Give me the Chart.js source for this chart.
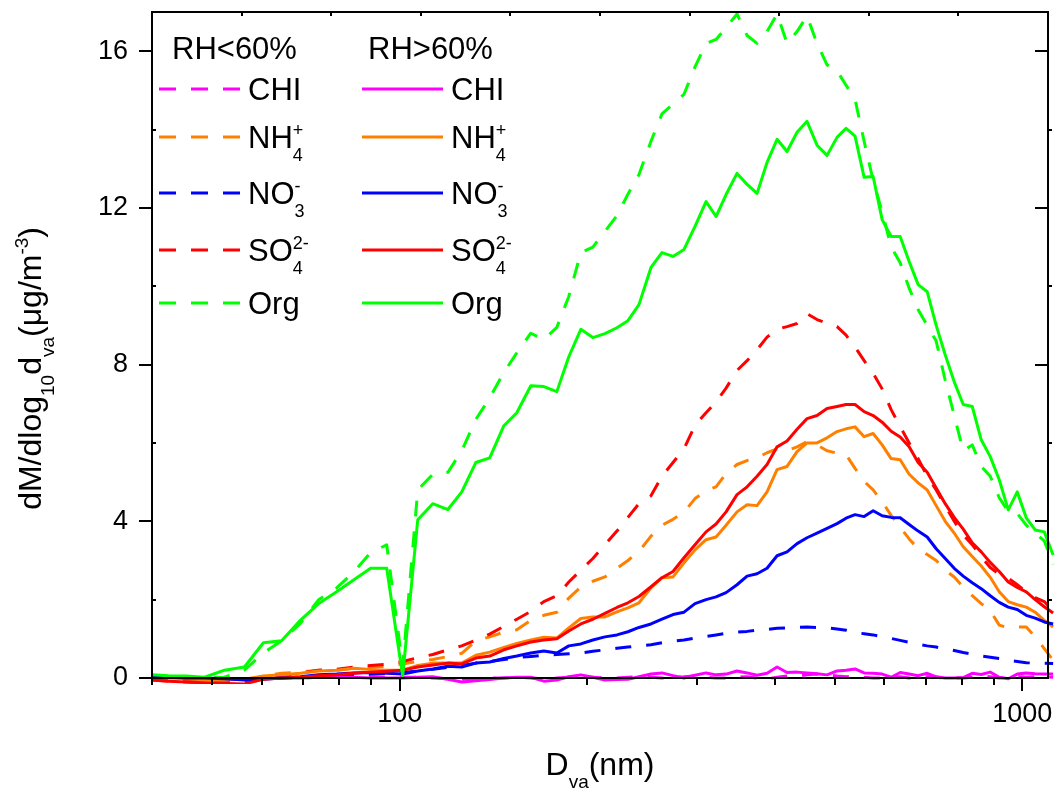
<!DOCTYPE html>
<html>
<head>
<meta charset="utf-8">
<style>
  html, body { margin: 0; padding: 0; background: #fff; }
  #wrap { width: 1056px; height: 789px; position: relative; }
</style>
<script src="https://cdn.jsdelivr.net/npm/chart.js@4.4.1/dist/chart.umd.min.js"></script>
</head>
<body>
<div id="wrap"><canvas id="sizeChart"></canvas></div>
<script>
// Vacuum aerodynamic diameter bins (nm)
const sizes = [40, 42.5, 45.4, 48.6, 52.3, 56.3, 60.4, 64.6, 69.3, 74.1,
  79.2, 84.3, 89.8, 95.3, 101.1, 106.9, 113, 119.5, 125.8, 132.5,
  139.5, 147, 154.2, 162.4, 170.4, 178.8, 186.9, 195.4, 204.3, 213.6,
  223.3, 232.6, 242.3, 253.3, 263.8, 274.8, 286.2, 298.1, 310.5, 322.2,
  334.4, 348.2, 361.4, 375, 389.1, 403.8, 419, 434.8, 451.1, 468.1,
  485.8, 504.1, 521.2, 538.8, 557.2, 576.1, 595.6, 615.8, 636.7, 658.2,
  680.5, 703.6, 727.4, 752.1, 777.6, 803.9, 831.2, 859.3, 888.4, 918.5,
  949.6, 981.8, 1015, 1049, 1085, 1121];

// RH<60% (dashed)
const chlLow = [0.02, 0.0, -0.02, -0.03, -0.04, -0.03, -0.02, 0.0, 0.0, 0.02,
  0.02, 0.03, 0.03, 0.02, 0.02, 0.02, 0.0, -0.02, -0.03, -0.02,
  0.0, 0.0, 0.02, 0.0, -0.02, 0.0, 0.02, 0.03, 0.02, 0.0,
  0.0, 0.02, 0.03, 0.02, 0.0, 0.02, 0.03, 0.05, 0.02, 0.0,
  0.0, 0.02, 0.03, 0.0, -0.02, 0.02, 0.05, 0.05, 0.08, 0.1,
  0.08, 0.05, 0.03, 0.05, 0.02, 0.0, 0.0, 0.02, 0.03, 0.0,
  0.02, 0.03, 0.02, 0.0, 0.0, 0.0, 0.02, 0.05, 0.03, 0.0,
  0.02, 0.03, 0.02, 0.03, 0.03, 0.02];
const nh4Low = [0.05, 0.0, -0.03, -0.08, -0.1, -0.08, 0.05, 0.12, 0.15, 0.2,
  0.2, 0.25, 0.28, 0.3, 0.36, 0.42, 0.47, 0.55, 0.63, 0.95,
  1.05, 1.17, 1.23, 1.47, 1.6, 1.68, 2.04, 2.32, 2.47, 2.58,
  2.8, 3.0, 3.23, 3.62, 3.9, 4.05, 4.23, 4.58, 4.78, 4.88,
  5.22, 5.45, 5.55, 5.62, 5.75, 5.85, 5.8, 5.9, 6.03, 5.95,
  5.8, 5.74, 5.7, 5.35, 5.02, 4.8, 4.5, 4.15, 3.85, 3.55,
  3.3, 3.15, 3.0, 2.75, 2.58, 2.32, 2.1, 1.9, 1.72, 1.35,
  1.28, 1.3, 1.3, 1.05, 0.75, 0.45];
const no3Low = [0.05, 0.03, 0.02, 0.0, -0.02, -0.03, -0.02, 0.0, 0.03, 0.05,
  0.07, 0.08, 0.1, 0.12, 0.14, 0.18, 0.22, 0.27, 0.32, 0.38,
  0.42, 0.47, 0.52, 0.55, 0.58, 0.6, 0.62, 0.64, 0.68, 0.72,
  0.76, 0.79, 0.82, 0.85, 0.9, 0.94, 0.97, 1.02, 1.06, 1.1,
  1.14, 1.17, 1.19, 1.22, 1.24, 1.27, 1.28, 1.29, 1.3, 1.29,
  1.28, 1.25, 1.22, 1.16, 1.13, 1.1, 1.05, 1.01, 0.96, 0.91,
  0.86, 0.82, 0.79, 0.74, 0.7, 0.65, 0.61, 0.56, 0.53, 0.5,
  0.45, 0.42, 0.39, 0.38, 0.38, 0.37];
const so4Low = [-0.05, -0.08, -0.1, -0.12, -0.12, -0.1, 0.0, 0.05, 0.12, 0.2,
  0.22, 0.28, 0.32, 0.35, 0.42, 0.52, 0.6, 0.72, 0.82, 0.97,
  1.12, 1.32, 1.5, 1.7, 1.95, 2.1, 2.45, 2.75, 3.05, 3.4,
  3.75, 4.1, 4.45, 4.65, 5.15, 5.5, 5.85, 6.45, 6.77, 7.05,
  7.4, 7.85, 8.1, 8.38, 8.7, 8.9, 8.97, 9.05, 9.3, 9.15,
  9.05, 8.97, 8.75, 8.45, 8.1, 7.78, 7.38, 6.85, 6.42, 6.0,
  5.6, 5.15, 4.8, 4.4, 4.0, 3.65, 3.4, 3.1, 2.82, 2.65,
  2.55, 2.38, 2.2, 2.05, 1.95, 1.7];
const orgLow = [0.05, 0.04, 0.02, 0.0, 0.02, 0.2, 0.64, 0.95, 1.4, 2.0,
  2.3, 2.7, 3.2, 3.4, 0.3, 4.8, 5.2, 5.25, 5.8, 6.6,
  7.15, 7.8, 8.3, 8.8, 8.64, 8.95, 9.74, 10.86, 11.0, 11.4,
  11.8, 12.35, 12.85, 13.7, 14.4, 14.65, 14.9, 15.6, 16.2, 16.3,
  16.6, 16.95, 16.4, 16.2, 16.5, 16.95, 16.2, 16.5, 16.9, 16.2,
  15.65, 15.5, 15.13, 14.77, 13.7, 12.7, 11.9, 11.0, 10.6, 9.95,
  9.4, 9.0, 8.6, 7.6, 6.7, 5.8, 5.95, 5.4, 5.15, 4.6,
  4.25, 4.2, 3.9, 3.7, 3.5, 2.9];

// RH>60% (solid)
const chlHigh = [0.0, 0.0, 0.0, -0.02, -0.03, -0.02, 0.0, 0.0, 0.0, 0.02,
  0.02, 0.02, 0.0, 0.0, 0.0, 0.02, 0.03, -0.03, -0.1, -0.07,
  -0.04, 0.0, 0.02, 0.02, -0.08, -0.05, 0.03, 0.08, 0.02, -0.05,
  -0.04, -0.03, 0.03, 0.1, 0.13, 0.06, 0.0, 0.07, 0.13, 0.08,
  0.1, 0.18, 0.13, 0.07, 0.12, 0.28, 0.14, 0.15, 0.13, 0.11,
  0.08, 0.18, 0.2, 0.23, 0.13, 0.12, 0.1, 0.02, 0.14, 0.1,
  0.06, 0.12, 0.03, 0.0, 0.0, 0.01, 0.12, 0.09, 0.15, 0.02,
  -0.02, 0.1, 0.13, 0.11, 0.1, 0.1];
const nh4High = [0.05, 0.02, 0.0, -0.05, -0.05, -0.03, 0.05, 0.08, 0.12, 0.18,
  0.2, 0.25, 0.22, 0.2, 0.2, 0.32, 0.38, 0.38, 0.38, 0.58,
  0.66, 0.78, 0.88, 0.97, 1.04, 1.02, 1.28, 1.52, 1.56, 1.56,
  1.69, 1.79, 1.92, 2.3, 2.56, 2.58, 2.94, 3.27, 3.53, 3.6,
  3.9, 4.24, 4.42, 4.4, 4.75, 5.32, 5.4, 5.78, 6.0, 6.0,
  6.13, 6.29, 6.36, 6.41, 6.16, 6.24, 5.95, 5.6, 5.57, 5.2,
  4.98, 4.8, 4.4, 4.0, 3.7, 3.35, 3.1, 2.86, 2.57, 2.2,
  1.95, 1.87, 1.81, 1.68, 1.47, 1.3];
const no3High = [0.05, 0.02, 0.0, 0.0, -0.02, -0.05, -0.03, 0.0, 0.03, 0.08,
  0.1, 0.13, 0.14, 0.12, 0.1, 0.18, 0.23, 0.3, 0.28, 0.38,
  0.41, 0.5, 0.56, 0.64, 0.69, 0.64, 0.82, 0.87, 0.97, 1.05,
  1.1, 1.18, 1.29, 1.38, 1.5, 1.62, 1.68, 1.9, 2.0, 2.07,
  2.18, 2.38, 2.6, 2.66, 2.8, 3.12, 3.22, 3.43, 3.58, 3.7,
  3.82, 3.94, 4.08, 4.17, 4.12, 4.27, 4.14, 4.1, 4.09, 3.92,
  3.75, 3.6, 3.3, 3.05, 2.8, 2.6, 2.43, 2.28, 2.1, 1.93,
  1.81, 1.75, 1.6, 1.53, 1.43, 1.38];
const so4High = [-0.05, -0.08, -0.1, -0.12, -0.14, -0.15, -0.03, 0.0, 0.02, 0.06,
  0.08, 0.12, 0.15, 0.17, 0.2, 0.28, 0.33, 0.38, 0.36, 0.51,
  0.56, 0.72, 0.82, 0.92, 0.97, 1.0, 1.2, 1.38, 1.5, 1.65,
  1.8, 1.92, 2.08, 2.33, 2.56, 2.72, 3.07, 3.4, 3.73, 3.93,
  4.24, 4.68, 4.88, 5.15, 5.45, 5.9, 6.05, 6.35, 6.62, 6.7,
  6.88, 6.93, 6.98, 6.98, 6.8, 6.7, 6.53, 6.3, 6.15, 5.9,
  5.5, 5.25, 4.85, 4.45, 4.1, 3.8, 3.45, 3.22, 2.95, 2.72,
  2.45, 2.31, 2.2, 2.0, 1.82, 1.66];
const orgHigh = [0.08, 0.06, 0.05, 0.02, 0.2, 0.28, 0.9, 0.95, 1.48, 1.9,
  2.2, 2.5, 2.8, 2.8, 0.05, 4.04, 4.45, 4.3, 4.75, 5.5,
  5.62, 6.44, 6.77, 7.46, 7.44, 7.31, 8.2, 8.9, 8.69, 8.79,
  8.94, 9.12, 9.53, 10.48, 10.86, 10.76, 10.94, 11.53, 12.16, 11.78,
  12.34, 12.88, 12.6, 12.37, 13.16, 13.75, 13.44, 13.93, 14.21, 13.6,
  13.34, 13.8, 14.03, 13.83, 12.78, 12.8, 11.7, 11.27, 11.27, 10.63,
  10.04, 9.86, 9.0, 8.25, 7.56, 6.98, 6.93, 6.08, 5.65, 5.06,
  4.29, 4.75, 4.09, 3.78, 3.73, 3.14];

// axis ticks
const xMajorTicks = [100, 1000];
const xMinorTicks = [40, 50, 60, 70, 80, 90, 200, 300, 400, 500, 600, 700, 800, 900];
const yMajorTicks = [0, 4, 8, 12, 16];
const yMinorTicks = [2, 6, 10, 14];

const FONT = '"Liberation Sans", Arial, Helvetica, sans-serif';
const DASH = [16, 15];

function series(values) {
    return sizes.map((d, i) => ({ x: d, y: values[i] }));
}

function line(label, values, color, dashed) {
    return {
        label: label,
        data: series(values),
        borderColor: color,
        backgroundColor: color,
        borderWidth: 3,
        borderDash: dashed ? DASH : [],
        borderJoinStyle: 'round',
        pointRadius: 0,
        tension: 0,
        fill: false,
        clip: { left: 0, top: 6, right: 9, bottom: 6 }
    };
}

// text with stacked sub/superscripts
function drawRich(ctx, parts, x, y, size, measureOnly) {
    const small = Math.round(size * 0.58);
    let cx = x;
    parts.forEach(p => {
        if (p.t) {
            ctx.font = size + 'px ' + FONT;
            if (!measureOnly) ctx.fillText(p.t, cx, y);
            cx += ctx.measureText(p.t).width;
        } else {
            ctx.font = small + 'px ' + FONT;
            let w = 0;
            if (p.sub) {
                if (!measureOnly) ctx.fillText(p.sub, cx, y + size * 0.42);
                w = Math.max(w, ctx.measureText(p.sub).width);
            }
            if (p.sup) {
                if (!measureOnly) ctx.fillText(p.sup, cx, y - size * 0.4);
                w = Math.max(w, ctx.measureText(p.sup).width);
            }
            cx += w;
        }
    });
    return cx - x;
}

const legendLabels = [
    [{ t: 'CHI' }],
    [{ t: 'NH' }, { sub: '4', sup: '+' }],
    [{ t: 'NO' }, { sub: '3', sup: '-' }],
    [{ t: 'SO' }, { sub: '4', sup: '2-' }],
    [{ t: 'Org' }]
];
const legendRowsY = [89, 137, 193, 250, 303];

// frame, ticks, legend and axis titles
const decorations = {
    id: 'decorations',
    afterDraw(chart) {
        const { ctx, chartArea: a, scales: { x, y } } = chart;
        ctx.save();
        ctx.strokeStyle = '#000';
        ctx.fillStyle = '#000';
        ctx.lineWidth = 2;
        ctx.setLineDash([]);
        ctx.strokeRect(a.left, a.top, a.right - a.left, a.bottom - a.top);

        ctx.beginPath();
        xMajorTicks.forEach(v => {
            const px = Math.round(x.getPixelForValue(v));
            ctx.moveTo(px, a.bottom); ctx.lineTo(px, a.bottom + 13);
        });
        xMinorTicks.forEach(v => {
            const px = Math.round(x.getPixelForValue(v));
            ctx.moveTo(px, a.bottom); ctx.lineTo(px, a.bottom + 7);
        });
        for (let k = 1; k < 10; k++) {
            const px = Math.round(a.left + (a.right - a.left) * k / 10);
            ctx.moveTo(px, a.top); ctx.lineTo(px, a.top + 4);
        }
        yMajorTicks.forEach(v => {
            const py = Math.round(y.getPixelForValue(v));
            ctx.moveTo(a.left - 13, py); ctx.lineTo(a.left, py);
            ctx.moveTo(a.right - 13, py); ctx.lineTo(a.right, py);
        });
        yMinorTicks.forEach(v => {
            const py = Math.round(y.getPixelForValue(v));
            ctx.moveTo(a.left, py); ctx.lineTo(a.left + 4, py);
            ctx.moveTo(a.right, py); ctx.lineTo(a.right + 4, py);
        });
        ctx.stroke();

        // legend
        ctx.textBaseline = 'alphabetic';
        ctx.textAlign = 'left';
        ctx.font = '31px ' + FONT;
        ctx.fillText('RH<60%', 172, 59);
        ctx.fillText('RH>60%', 368, 59);
        const ds = chart.data.datasets;
        legendLabels.forEach((parts, i) => {
            const ly = legendRowsY[i];
            const low = ds.find(d => d.label === speciesNames[i] + ' RH<60%');
            const high = ds.find(d => d.label === speciesNames[i] + ' RH>60%');
            ctx.lineWidth = 3;
            ctx.strokeStyle = low.borderColor;
            ctx.setLineDash([17, 15]);
            ctx.beginPath(); ctx.moveTo(159, ly); ctx.lineTo(240, ly); ctx.stroke();
            ctx.strokeStyle = high.borderColor;
            ctx.setLineDash([]);
            ctx.beginPath(); ctx.moveTo(362, ly); ctx.lineTo(443, ly); ctx.stroke();
            drawRich(ctx, parts, 248, ly + 11, 31);
            drawRich(ctx, parts, 451, ly + 11, 31);
        });

        // axis titles
        const xTitle = [{ t: 'D' }, { sub: 'va' }, { t: '(nm)' }];
        const xw = drawRich(ctx, xTitle, 0, 0, 32, true);
        drawRich(ctx, xTitle, (a.left + a.right) / 2 - xw / 2, 775, 32);

        const yTitle = [{ t: 'dM/dlog' }, { sub: '10' }, { t: 'd' }, { sub: 'va' },
            { t: '(\u03bcg/m' }, { sup: '-3' }, { t: ')' }];
        const yw = drawRich(ctx, yTitle, 0, 0, 32, true);
        ctx.translate(41, 227 + yw / 2);
        ctx.rotate(-Math.PI / 2);
        drawRich(ctx, yTitle, -yw / 2, 0, 32);
        ctx.restore();
    }
};

const speciesNames = ['CHI', 'NH4+', 'NO3-', 'SO42-', 'Org'];
const colors = ['#FF00FF', '#FF8000', '#0000FF', '#FF0000', '#00FF00'];
const highValues = [chlHigh, nh4High, no3High, so4High, orgHigh];
const lowValues = [chlLow, nh4Low, no3Low, so4Low, orgLow];

// first dataset is drawn on top
const datasets = [];
[4, 3, 2, 1, 0].forEach(i => datasets.push(line(speciesNames[i] + ' RH>60%', highValues[i], colors[i], false)));
[4, 3, 2, 1, 0].forEach(i => datasets.push(line(speciesNames[i] + ' RH<60%', lowValues[i], colors[i], true)));

const sizeChart = new Chart(
    document.getElementById('sizeChart'),
    {
        type: 'line',
        data: { datasets: datasets },
        options: {
            responsive: true,
            maintainAspectRatio: false,
            animation: false,
            layout: { padding: { left: 0, top: 12, right: 8, bottom: 0 } },
            plugins: {
                legend: { display: false },
                tooltip: { enabled: false }
            },
            scales: {
                x: {
                    type: 'logarithmic',
                    min: 40,
                    max: 1100,
                    grid: { display: false, drawTicks: false },
                    border: { display: false },
                    ticks: {
                        color: '#000',
                        font: { family: FONT, size: 27 },
                        padding: 20,
                        maxRotation: 0,
                        autoSkip: false,
                        callback: v => String(v)
                    },
                    afterBuildTicks: s => { s.ticks = xMajorTicks.map(v => ({ value: v })); },
                    afterFit: s => {
                        s.height = 111;
                        s.paddingLeft = 0; s.paddingRight = 0;
                        s.paddingTop = 0; s.paddingBottom = 0;
                    }
                },
                y: {
                    type: 'linear',
                    min: 0,
                    max: 17,
                    grid: { display: false, drawTicks: false },
                    border: { display: false },
                    ticks: {
                        color: '#000',
                        font: { family: FONT, size: 27 },
                        padding: 24,
                        callback: v => String(v)
                    },
                    afterBuildTicks: s => { s.ticks = yMajorTicks.map(v => ({ value: v })); },
                    afterFit: s => {
                        s.width = 152;
                        s.paddingLeft = 0; s.paddingRight = 0;
                        s.paddingTop = 0; s.paddingBottom = 0;
                    }
                }
            }
        },
        plugins: [decorations]
    }
);
</script>
</body>
</html>
